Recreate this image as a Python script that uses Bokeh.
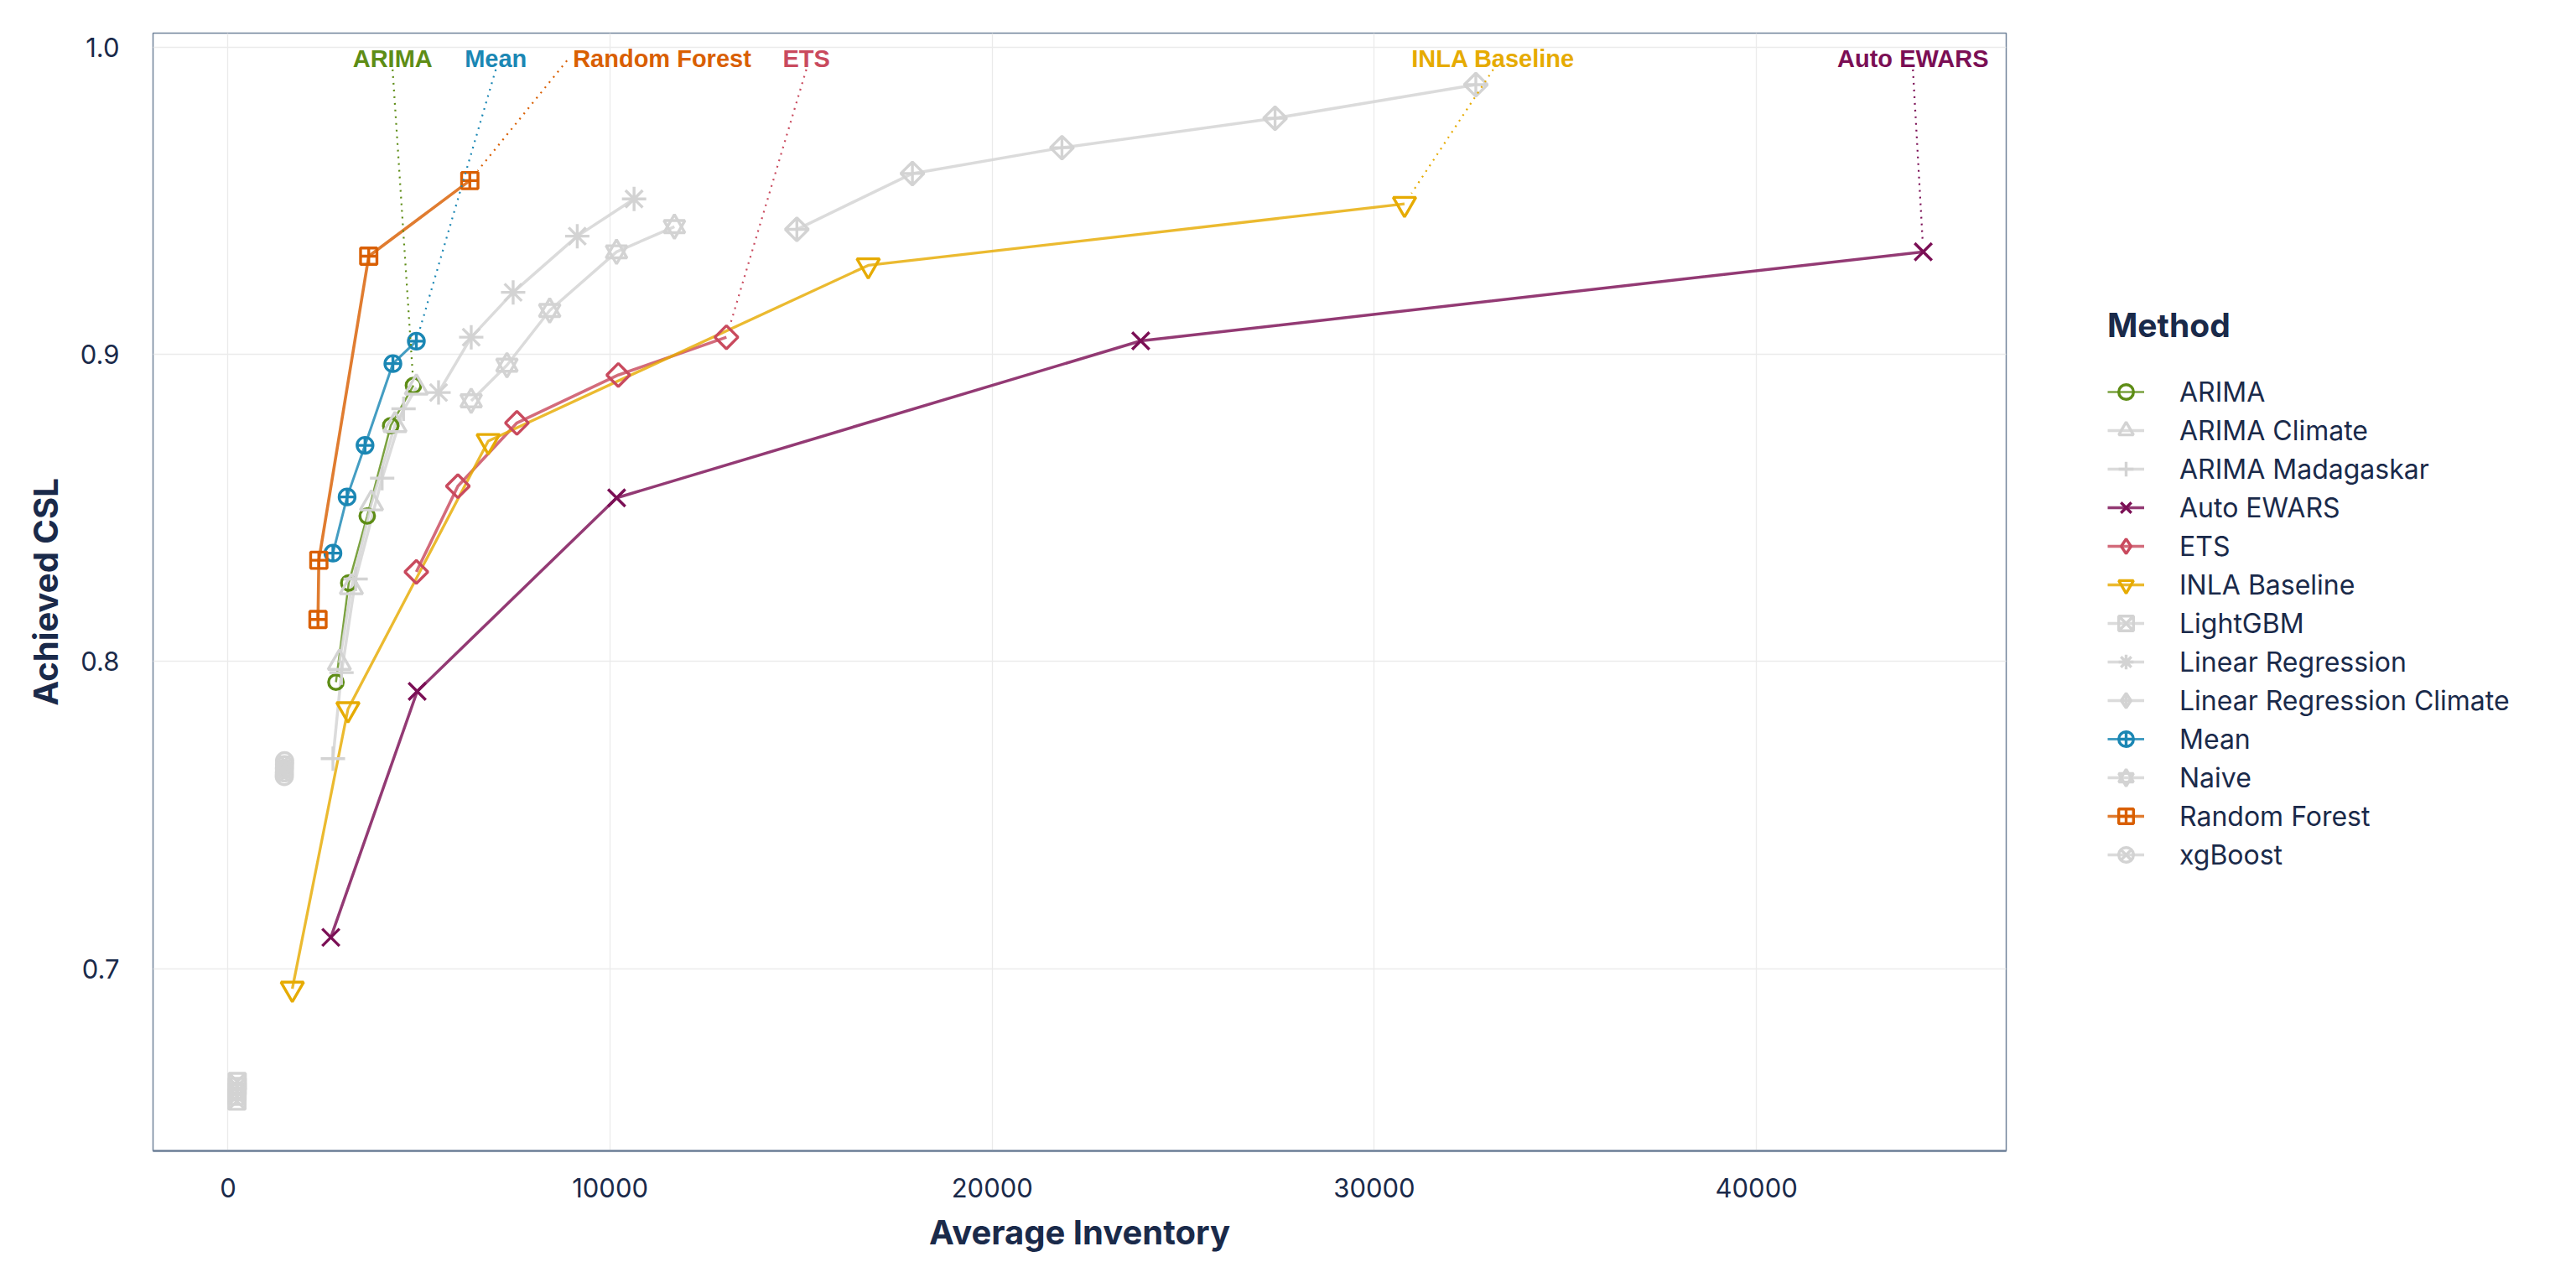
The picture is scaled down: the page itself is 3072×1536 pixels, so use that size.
import math
from bokeh.plotting import figure
from bokeh.layouts import row
from bokeh.models import Range1d, FixedTicker, PrintfTickFormatter, Legend, LegendItem, ColumnDataSource
from bokeh.core.properties import value
from bokeh.embed import file_html
from bokeh.resources import INLINE

# ---------------- data ----------------
methods = ["ARIMA", "ARIMA Climate", "ARIMA Madagaskar", "Auto EWARS", "ETS", "INLA Baseline",
           "LightGBM", "Linear Regression", "Linear Regression Climate", "Mean", "Naive",
           "Random Forest", "xgBoost"]

arima_inv = [2825, 3160, 3643, 4258, 4853]
arima_csl = [0.7933, 0.8256, 0.8474, 0.8768, 0.8899]

arima_climate_inv = [2915, 3229, 3755, 4370, 4929]
arima_climate_csl = [0.7996, 0.8242, 0.8515, 0.8770, 0.8892]

arima_mdg_inv = [2746, 2970, 3340, 4034, 4594]
arima_mdg_csl = [0.7684, 0.7964, 0.8269, 0.8597, 0.8823]

auto_ewars_inv = [2691, 4951, 10171, 23886, 44365]
auto_ewars_csl = [0.7102, 0.7903, 0.8533, 0.9044, 0.9334]

ets_inv = [4929, 6016, 7561, 10214, 13044]
ets_csl = [0.8292, 0.8571, 0.8777, 0.8933, 0.9056]

inla_inv = [1683, 3139, 6810, 16755, 30790]
inla_csl = [0.6935, 0.7845, 0.8718, 0.9290, 0.9490]

lightgbm_inv = [233, 235, 237, 239, 241]
lightgbm_csl = [0.6569, 0.6585, 0.6600, 0.6617, 0.6633]

linreg_inv = [5510, 6365, 7462, 9140, 10627]
linreg_csl = [0.8876, 0.9056, 0.9202, 0.9385, 0.9506]

linreg_climate_inv = [14887, 17911, 21825, 27402, 32656]
linreg_climate_csl = [0.9407, 0.9589, 0.9673, 0.9769, 0.9878]

mean_inv = [2746, 3117, 3586, 4315, 4929]
mean_csl = [0.8353, 0.8536, 0.8704, 0.8970, 0.9043]

naive_inv = [6364, 7300, 8419, 10168, 11683]
naive_csl = [0.8849, 0.8965, 0.9143, 0.9334, 0.9416]

rf_inv = [2355, 2377, 3683, 6328]
rf_csl = [0.8137, 0.8330, 0.9320, 0.9566]

xgboost_inv = [1473, 1475, 1477, 1479, 1481]
xgboost_csl = [0.7626, 0.7638, 0.7651, 0.7664, 0.7677]

series_inv = [arima_inv, arima_climate_inv, arima_mdg_inv, auto_ewars_inv, ets_inv, inla_inv,
              lightgbm_inv, linreg_inv, linreg_climate_inv, mean_inv, naive_inv, rf_inv, xgboost_inv]
series_csl = [arima_csl, arima_climate_csl, arima_mdg_csl, auto_ewars_csl, ets_csl, inla_csl,
              lightgbm_csl, linreg_csl, linreg_climate_csl, mean_csl, naive_csl, rf_csl, xgboost_csl]

label_methods = ["ARIMA", "Mean", "Random Forest", "ETS", "INLA Baseline", "Auto EWARS"]
label_inv = [4308, 7008, 11358, 15135, 33111, 44095]
label_csl = [0.9963, 0.9963, 0.9962, 0.9963, 0.9963, 0.9963]

x_ticks = [0, 10000, 20000, 30000, 40000]
y_ticks = [0.7, 0.8, 0.9, 1.0]

# ---------------- styles ----------------
GRAY = "#d3d3d3"
colors = {
    "ARIMA": "#5e8d16", "Auto EWARS": "#7b0f55", "ETS": "#c94a5e", "INLA Baseline": "#e6ab02",
    "Mean": "#1b87b4", "Random Forest": "#d95f02",
}
line_widths = {"ARIMA": 2.5, "Mean": 3.0, "Random Forest": 3.6, "ETS": 3.6,
               "INLA Baseline": 3.3, "Auto EWARS": 3.5}
# plot markers: (marker, size, angle)
markers = {
    "ARIMA": [("circle", 17.5, 0)],
    "ARIMA Climate": [("triangle", 27, 0)],
    "ARIMA Madagaskar": [("cross", 29, 0)],
    "Auto EWARS": [("x", 29, 0)],
    "ETS": [("square", 19.5, math.pi / 4)],
    "INLA Baseline": [("inverted_triangle", 27, 0)],
    "LightGBM": [("square_x", 19.5, 0)],
    "Linear Regression": [("asterisk", 29, 0)],
    "Linear Regression Climate": [("square_x", 19.5, math.pi / 4)],
    "Mean": [("circle_cross", 19, 0)],
    "Naive": [("triangle", 25, 0), ("inverted_triangle", 25, 0)],
    "Random Forest": [("square_cross", 19.5, 0)],
    "xgBoost": [("circle_x", 19.5, 0)],
}
# legend keys (Bokeh legends draw markers unrotated)
legend_markers = dict(markers)
legend_markers["ETS"] = [("diamond", 0, 0)]
legend_markers["Linear Regression Climate"] = [("diamond_cross", 0, 0)]

NAVY = "#1a2a4a"
BORDER = "#71839a"
MARKER_LW = 3.4

X0, X1 = -1962, 46536
Y0, Y1 = 0.6407, 1.0046
FIG_H = 1530
BL, BT = 182, 39
FW, FH = 2210, 1333
BR = 8
FIG_W = BL + FW + BR
BB = FIG_H - BT - FH

p = figure(width=FIG_W, height=FIG_H, x_range=Range1d(X0, X1), y_range=Range1d(Y0, Y1),
           output_backend="svg", toolbar_location=None,
           min_border_left=BL, min_border_right=BR, min_border_top=BT, min_border_bottom=BB)
p.background_fill_color = "white"
p.border_fill_color = "white"
p.outline_line_color = BORDER
p.outline_line_width = 1.5

for ax in (p.xaxis, p.yaxis):
    ax.major_tick_line_color = None
    ax.minor_tick_line_color = None
    ax.major_label_text_font = "Inter"
    ax.major_label_text_font_size = "31px"
    ax.major_label_text_color = NAVY
    ax.axis_label_text_font = "Inter"
    ax.axis_label_text_font_style = "bold"
    ax.axis_label_text_font_size = "40px"
    ax.axis_label_text_color = NAVY

p.xaxis.axis_line_color = BORDER
p.xaxis.axis_line_width = 2.5
p.yaxis.axis_line_color = None
p.xaxis.ticker = FixedTicker(ticks=x_ticks)
p.yaxis.ticker = FixedTicker(ticks=y_ticks)
p.xaxis.formatter = PrintfTickFormatter(format="%d")
p.yaxis.formatter = PrintfTickFormatter(format="%.1f")
p.xaxis.major_label_standoff = 26
p.yaxis.major_label_standoff = 34
p.xaxis.axis_label = "Average Inventory"
p.yaxis.axis_label = "Achieved CSL"
p.xaxis.axis_label_standoff = 14
p.yaxis.axis_label_standoff = 14

p.xgrid.ticker = FixedTicker(ticks=x_ticks)
p.ygrid.ticker = FixedTicker(ticks=y_ticks)
p.xgrid.grid_line_color = "#ebebeb"
p.ygrid.grid_line_color = "#ebebeb"
p.xgrid.grid_line_width = 1.3
p.ygrid.grid_line_width = 1.3

for m, xs, ys in zip(methods, series_inv, series_csl):
    p.line(xs, ys, line_color=colors.get(m, GRAY), line_width=line_widths.get(m, 3.5), line_alpha=0.82)

for m, xs, ys in zip(methods, series_inv, series_csl):
    c = colors.get(m, GRAY)
    for mk, sz, ang in markers[m]:
        p.scatter(xs, ys, marker=mk, size=sz, angle=ang, line_color=c,
                  fill_color=None, line_width=MARKER_LW)

# ---------------- repel-style labels with dotted leaders ----------------
char_w = {"A": .722, "R": .722, "I": .278, "M": .833, "e": .556, "a": .556, "n": .611,
          "d": .611, "o": .611, "m": .889, " ": .278, "F": .611, "r": .389, "s": .556,
          "t": .333, "E": .667, "T": .611, "S": .667, "N": .722, "L": .611, "B": .722,
          "l": .278, "i": .278, "u": .611, "W": .944}
LABEL_PX = 29

def to_px(x, y):
    return ((x - X0) / (X1 - X0) * FW, (y - Y0) / (Y1 - Y0) * FH)

def to_data(px, py):
    return (X0 + px / FW * (X1 - X0), Y0 + py / FH * (Y1 - Y0))

seg = dict(x0=[], y0=[], x1=[], y1=[], c=[])
for m, lx, ly in zip(label_methods, label_inv, label_csl):
    idx = methods.index(m)
    tx, ty = series_inv[idx][-1], series_csl[idx][-1]
    lpx, lpy = to_px(lx, ly)
    tpx, tpy = to_px(tx, ty)
    dx, dy = tpx - lpx, tpy - lpy
    half_w = sum(char_w.get(ch, .6) for ch in m) * LABEL_PX / 2
    if abs(dx) > abs(dy):
        spx = lpx + math.copysign(half_w + 7, dx)
        spy = lpy - 2
    else:
        spx = lpx
        spy = lpy - 13
    vx, vy = tpx - spx, tpy - spy
    L = math.hypot(vx, vy)
    epx, epy = tpx - vx / L * 15, tpy - vy / L * 15
    a = to_data(spx, spy)
    b = to_data(epx, epy)
    seg["x0"].append(a[0]); seg["y0"].append(a[1])
    seg["x1"].append(b[0]); seg["y1"].append(b[1])
    seg["c"].append(colors[m])

p.segment(x0="x0", y0="y0", x1="x1", y1="y1", line_color="c", line_width=2.2,
          line_dash="2 6", source=ColumnDataSource(seg))

p.text(x=label_inv, y=label_csl, text=label_methods,
       text_color=[colors[m] for m in label_methods],
       text_font=value("Liberation Sans"), text_font_style="bold", text_font_size="29px",
       text_align="center", text_baseline="middle")

# ---------------- legend panel ----------------
LEG_W = 3060 - FIG_W
q = figure(width=LEG_W, height=FIG_H, x_range=Range1d(0, 1), y_range=Range1d(0, 1),
           x_axis_type=None, y_axis_type=None, output_backend="svg", toolbar_location=None,
           min_border_left=0, min_border_right=0, min_border_top=0, min_border_bottom=0)
q.outline_line_color = None
q.background_fill_color = "white"
q.border_fill_color = "white"

items = []
for m in methods:
    c = colors.get(m, GRAY)
    # key-only source: one point outside this panel's visible range
    key_src = ColumnDataSource(dict(x=[5.0], y=[5.0]))
    rs = [q.line("x", "y", source=key_src, line_color=c, line_width=line_widths.get(m, 3.5), line_alpha=0.82)]
    for mk, sz, ang in legend_markers[m]:
        rs.append(q.scatter("x", "y", source=key_src, marker=mk, line_color=c,
                            fill_color=None, line_width=MARKER_LW))
    items.append(LegendItem(label=m, renderers=rs, index=0))

legend = Legend(items=items, location=(113, 330), title="Method",
                title_text_font="Inter", title_text_font_style="bold", title_text_font_size="39px",
                title_text_color=NAVY, title_standoff=33,
                label_text_font="Inter", label_text_font_size="32px", label_text_color=NAVY,
                glyph_width=44, glyph_height=46, label_height=46, label_standoff=42,
                spacing=0, padding=0, margin=0, border_line_color=None,
                background_fill_alpha=0)
q.add_layout(legend)

open("out.html", "w").write(file_html(row(p, q), INLINE))
